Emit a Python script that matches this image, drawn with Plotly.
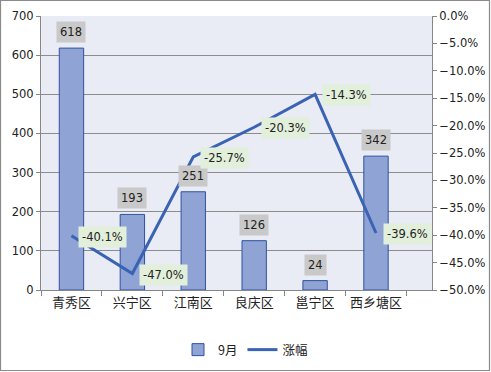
import plotly.graph_objects as go

categories = ["青秀区", "兴宁区", "江南区", "良庆区", "邕宁区", "西乡塘区"]
sept_values = [618, 193, 251, 126, 24, 342]
growth = [-0.401, -0.470, -0.257, -0.203, -0.143, -0.396]
left_ticks = [0, 100, 200, 300, 400, 500, 600, 700]
right_ticks = [0, -0.05, -0.10, -0.15, -0.20, -0.25, -0.30, -0.35, -0.40, -0.45, -0.50]

W, H = 491, 372
ML, MR, MT, MB = 41, 59, 16, 82
FONT = "DejaVu Sans, Noto Sans CJK SC"
CJK = "Noto Sans CJK SC, DejaVu Sans"

fig = go.Figure()
fig.add_trace(go.Bar(
    x=categories, y=sept_values, name="9月",
    marker=dict(color="#8FA3D5", line=dict(color="#2F52A0", width=1)),
    width=0.4, yaxis="y",
))
fig.add_trace(go.Scatter(
    x=categories, y=growth, name="涨幅", mode="lines",
    line=dict(color="#3A63B3", width=3), yaxis="y2",
))

ann = []
for c, v in zip(categories, sept_values):
    ann.append(dict(x=c, y=v, xref="x", yref="y", text=str(v), showarrow=False,
                    yanchor="bottom", yshift=5, bgcolor="#C9C9C9", borderpad=3,
                    font=dict(family=FONT, size=11.5, color="#222")))
for c, g in zip(categories, growth):
    ann.append(dict(x=c, y=g, xref="x", yref="y2", text=f"{g*100:.1f}%", showarrow=False,
                    xanchor="left", xshift=7, yshift=-1, bgcolor="#E2EFDA", borderpad=3,
                    font=dict(family=FONT, size=11.5, color="#222")))

pw = W - ML - MR
ph = H - MT - MB
shapes = [dict(type="rect", xref="paper", yref="paper",
               x0=(0.5 - ML) / pw, x1=(W - 1.5 - ML) / pw,
               y0=-(MB - 1.5) / ph, y1=(ph + MT - 0.5) / ph,
               line=dict(color="#8A8A8A", width=1.2), layer="below")]

fig.update_layout(
    width=W, height=H,
    margin=dict(l=ML, r=MR, t=MT, b=MB, autoexpand=False),
    paper_bgcolor="white", plot_bgcolor="#E9EBF5",
    font=dict(family=FONT, size=11, color="#222"),
    showlegend=True,
    legend=dict(orientation="h", x=0.5, xanchor="center", xref="container",
                y=22 / H, yanchor="middle", yref="container",
                font=dict(family=CJK, size=12.5, color="#222"),
                traceorder="normal"),
    xaxis=dict(type="category", showline=True, linecolor="#868686", ticks="outside",
               tickson="boundaries", ticklen=5, tickcolor="#868686", showgrid=False,
               tickangle=0,
               tickfont=dict(family=CJK, size=13, color="#222"), automargin=False),
    yaxis=dict(range=[0, 700], tickvals=left_ticks, showline=True, linecolor="#868686",
               ticks="outside", ticklen=4, tickcolor="#868686", gridcolor="#8C8C8C",
               gridwidth=1, zeroline=False, tickfont=dict(size=11.5), automargin=False),
    yaxis2=dict(range=[-0.5, 0], tickvals=right_ticks, tickformat=".1%", overlaying="y",
                side="right", showline=True, linecolor="#868686", ticks="outside",
                ticklen=4, tickcolor="#868686", showgrid=False, zeroline=False,
                tickfont=dict(size=11.5), automargin=False),
    annotations=ann, shapes=shapes,
)

fig.write_html("out.html", config={"displayModeBar": False},
               post_script="document.body.style.margin='0';document.body.style.overflow='hidden';")
